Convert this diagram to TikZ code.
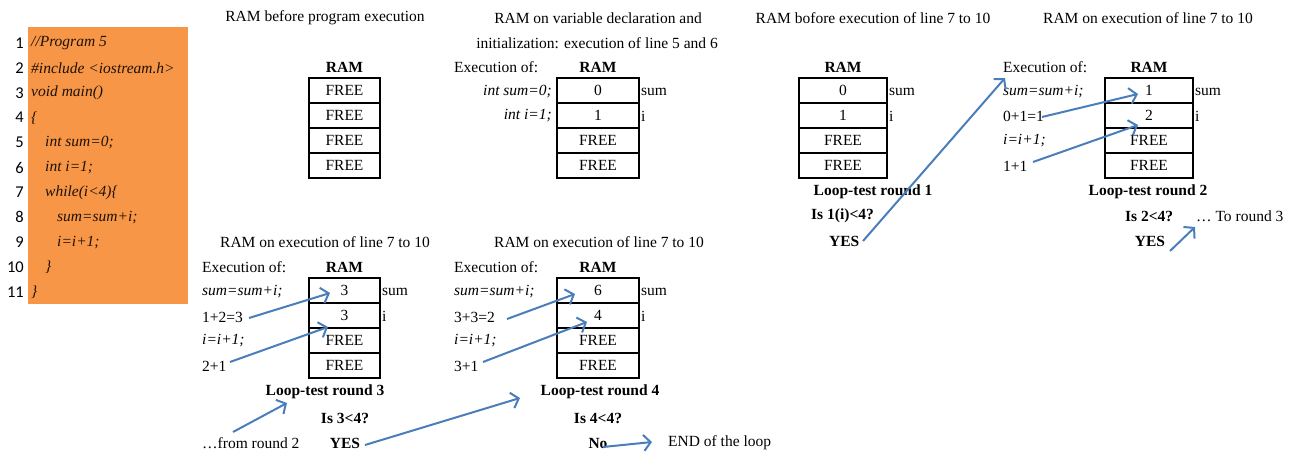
\documentclass[tikz,border=0pt]{standalone}
\usepackage{fontspec}
\setmainfont{Liberation Serif}[ItalicFont={Liberation Serif Italic}, BoldFont={Liberation Serif Bold}, BoldItalicFont={Liberation Serif Bold Italic}]
\newfontfamily\numfont{Carlito}
\usetikzlibrary{arrows.meta}
\definecolor{codeorange}{HTML}{F79646}
\definecolor{arrowblue}{HTML}{4A7EBB}
\definecolor{codetext}{HTML}{1E1208}
\begin{document}
\begin{tikzpicture}[x=1pt,y=-1pt,
  every node/.style={inner sep=0pt, font=\fontsize{15.5}{18}\selectfont},
  lt/.style={anchor=west},
  rt/.style={anchor=east},
  it/.style={font=\fontsize{15.5}{18}\selectfont\itshape},
  bf/.style={font=\fontsize{15.5}{18}\selectfont\bfseries},
  lnum/.style={anchor=east, font=\numfont\fontsize{16.5}{18}\selectfont},
  code/.style={anchor=west, text=codetext, font=\fontsize{15.5}{18}\selectfont\itshape},
  cell/.style={draw, line width=2pt, minimum height=25pt, inner sep=0pt},
  arr/.style={draw=arrowblue, line width=2pt, -{Straight Barb[length=7pt,width=16pt]}}
]
\useasboundingbox (0,0) rectangle (1295,452);

% ---------------- code listing ----------------
\node[fill=codeorange, minimum width=160pt, minimum height=277pt, anchor=north west] (codebox) at (28,27) {};
\foreach \n/\x/\t in {1/31/{//Program 5}, 2/31/{\#include <iostream.h>}, 3/31/{void main()}, 4/31/{\{},
  5/45/{int sum=0;}, 6/45/{int i=1;}, 7/45/{while(i<4)\{}, 8/57/{sum=sum+i;}, 9/57/{i=i+1;}, 10/45/{\}}, 11/31/{\}}} {
  \node[lnum] (ln\n) at (24,{43+24.9*(\n-1)}) {\n};
  \node[code] (cl\n) at (\x,{43+24.9*(\n-1)}) {\t};
}

% ---------------- panel 1 ----------------
\node (t1) at (325,18) {RAM before program execution};
\node[bf] (r1) at (344.5,67) {RAM};
\node[cell, minimum width=71pt] (p1c1) at (344.5,90.5) {FREE};
\node[cell, minimum width=71pt] (p1c2) at (344.5,115.5) {FREE};
\node[cell, minimum width=71pt] (p1c3) at (344.5,140.5) {FREE};
\node[cell, minimum width=71pt] (p1c4) at (344.5,165.5) {FREE};

% ---------------- panel 2 ----------------
\node (t2a) at (598,18) {RAM on variable declaration and};
\node (t2b) at (597,43) {initialization: execution of line 5 and 6};
\node[lt] (e2) at (454,67) {Execution of:};
\node[bf] (r2) at (598,67) {RAM};
\node[cell, minimum width=82pt] (p2c1) at (598,90.5) {0};
\node[cell, minimum width=82pt] (p2c2) at (598,115.5) {1};
\node[cell, minimum width=82pt] (p2c3) at (598,140.5) {FREE};
\node[cell, minimum width=82pt] (p2c4) at (598,165.5) {FREE};
\node[rt, it] (d2a) at (552,92) {int sum=0;};
\node[rt, it] (d2b) at (552,116) {int i=1;};
\node[lt] (s2) at (641,92) {sum};
\node[lt] (i2) at (641,116) {i};

% ---------------- panel 3 ----------------
\node (t3) at (873,18) {RAM bofore execution of line 7 to 10};
\node[bf] (r3) at (843,67) {RAM};
\node[cell, minimum width=88pt] (p3c1) at (843,90.5) {0};
\node[cell, minimum width=88pt] (p3c2) at (843,115.5) {1};
\node[cell, minimum width=88pt] (p3c3) at (843,140.5) {FREE};
\node[cell, minimum width=88pt] (p3c4) at (843,165.5) {FREE};
\node[lt] (s3) at (889,92) {sum};
\node[lt] (i3) at (889,116) {i};
\node[bf] (lr1) at (873,192) {Loop-test round 1};
\node[bf, lt] (q1) at (811,216) {Is 1(i)<4?};
\node[bf, lt] (y1) at (829,241) {YES};

% ---------------- panel 4 ----------------
\node (t4) at (1148,18) {RAM on execution of line 7 to 10};
\node[lt] (e4) at (1003,67) {Execution of:};
\node[bf] (r4) at (1149,67) {RAM};
\node[cell, minimum width=88pt] (p4c1) at (1149,90.5) {1};
\node[cell, minimum width=88pt] (p4c2) at (1149,115.5) {2};
\node[cell, minimum width=88pt] (p4c3) at (1149,140.5) {FREE};
\node[cell, minimum width=88pt] (p4c4) at (1149,165.5) {FREE};
\node[lt] (s4) at (1195,92) {sum};
\node[lt] (i4) at (1195,116) {i};
\node[lt, it] (a4a) at (1003,92) {sum=sum+i;};
\node[lt] (a4b) at (1003,116) {0+1=1};
\node[lt, it] (a4c) at (1003,141) {i=i+1;};
\node[lt] (a4d) at (1003,166) {1+1};
\node[bf] (lr2) at (1148,192) {Loop-test round 2};
\node[bf, lt] (q2) at (1125,216) {Is 2<4?};
\node[lt] (to3) at (1196,216) {… To round 3};
\node[bf] (y2) at (1150,241) {YES};

% ---------------- panel 5 ----------------
\node (t5) at (325,242) {RAM on execution of line 7 to 10};
\node[lt] (e5) at (202,267) {Execution of:};
\node[bf] (r5) at (344.5,267) {RAM};
\node[cell, minimum width=71pt] (p5c1) at (344.5,290.5) {3};
\node[cell, minimum width=71pt] (p5c2) at (344.5,315.5) {3};
\node[cell, minimum width=71pt] (p5c3) at (344.5,340.5) {FREE};
\node[cell, minimum width=71pt] (p5c4) at (344.5,365.5) {FREE};
\node[lt] (s5) at (382,292) {sum};
\node[lt] (i5) at (382,316) {i};
\node[lt, it] (a5a) at (202,292) {sum=sum+i;};
\node[lt] (a5b) at (202,317) {1+2=3};
\node[lt, it] (a5c) at (202,341) {i=i+1;};
\node[lt] (a5d) at (202,366) {2+1};
\node[bf] (lr3) at (325,392) {Loop-test round 3};
\node[bf] (q3) at (345,418) {Is 3<4?};
\node[lt] (fr2) at (202,443) {…from round 2};
\node[bf] (y3) at (345,443) {YES};

% ---------------- panel 6 ----------------
\node (t6) at (599,242) {RAM on execution of line 7 to 10};
\node[lt] (e6) at (454,267) {Execution of:};
\node[bf] (r6) at (598,267) {RAM};
\node[cell, minimum width=82pt] (p6c1) at (598,290.5) {6};
\node[cell, minimum width=82pt] (p6c2) at (598,315.5) {4};
\node[cell, minimum width=82pt] (p6c3) at (598,340.5) {FREE};
\node[cell, minimum width=82pt] (p6c4) at (598,365.5) {FREE};
\node[lt] (s6) at (641,292) {sum};
\node[lt] (i6) at (641,316) {i};
\node[lt, it] (a6a) at (454,292) {sum=sum+i;};
\node[lt] (a6b) at (454,317) {3+3=2};
\node[lt, it] (a6c) at (454,341) {i=i+1;};
\node[lt] (a6d) at (454,366) {3+1};
\node[bf] (lr4) at (600,392) {Loop-test round 4};
\node[bf] (q4) at (598,418) {Is 4<4?};
\node[bf] (no4) at (598,443) {No};
\node[lt] (end) at (668,443) {END of the loop};

% ---------------- arrow end points ----------------
\coordinate (y1s) at (863,241);   \coordinate (y1e) at (1005,78);
\coordinate (a4bs) at (1042,117); \coordinate (a4be) at (1138,94);
\coordinate (a4ds) at (1033,162); \coordinate (a4de) at (1138,125);
\coordinate (y2s) at (1170,251);  \coordinate (y2e) at (1195,227);
\coordinate (a5bs) at (249,318);  \coordinate (a5be) at (330,293);
\coordinate (a5ds) at (230,362);  \coordinate (a5de) at (328,327);
\coordinate (fr2s) at (233,432);  \coordinate (fr2e) at (287,403);
\coordinate (y3s) at (365,445);   \coordinate (y3e) at (520,398);
\coordinate (a6bs) at (507,319);  \coordinate (a6be) at (575,294);
\coordinate (a6ds) at (483,362);  \coordinate (a6de) at (587,322);
\coordinate (no4s) at (603,447);  \coordinate (no4e) at (652,442);

\draw[arr] (y1s) -- (y1e);
\draw[arr] (a4bs) -- (a4be);
\draw[arr] (a4ds) -- (a4de);
\draw[arr] (y2s) -- (y2e);
\draw[arr] (a5bs) -- (a5be);
\draw[arr] (a5ds) -- (a5de);
\draw[arr] (fr2s) -- (fr2e);
\draw[arr] (y3s) -- (y3e);
\draw[arr] (a6bs) -- (a6be);
\draw[arr] (a6ds) -- (a6de);
\draw[arr] (no4s) -- (no4e);
\end{tikzpicture}
\end{document}
